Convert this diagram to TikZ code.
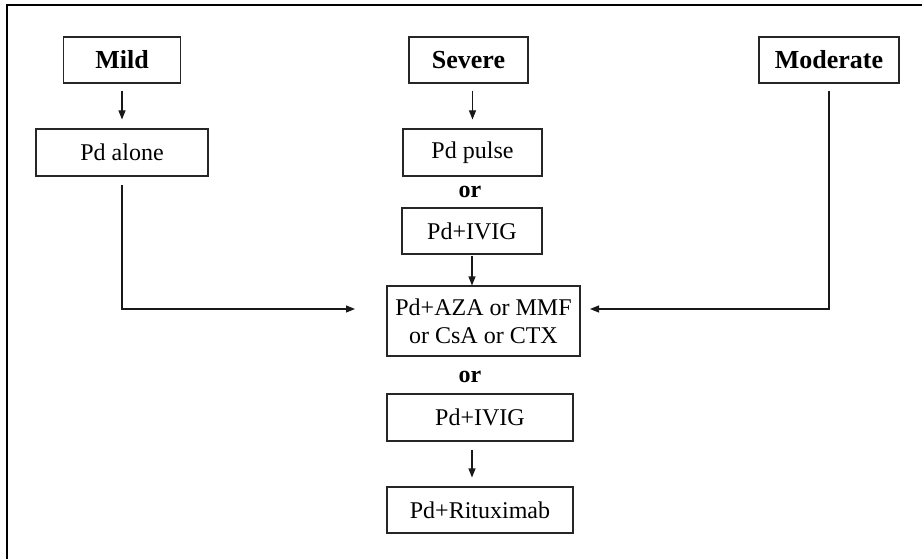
\documentclass[tikz,border=0pt]{standalone}
\usepackage{fontspec}
\setmainfont{Liberation Serif}
\usetikzlibrary{arrows.meta}

\begin{document}
\begin{tikzpicture}[x=1pt,y=-1pt,
  box/.style={draw=black!85,line width=1.1pt,inner sep=0pt,align=center,
    font=\fontsize{24}{28}\selectfont},
  head/.style={box,font=\fontsize{26}{30}\selectfont\bfseries},
  ortext/.style={inner sep=0pt,font=\fontsize{24}{28}\selectfont\bfseries},
  arr/.style={-{Triangle[length=9pt,width=7pt]},line width=1.1pt,draw=black!90}]
  \useasboundingbox (0,0) rectangle (922,559);
  % frame: only its top and left edges lie inside the picture
  \draw[line width=2.5pt] (922,5) -- (7,5) -- (7,559);
  % severity
  \node[head,minimum width=117pt,minimum height=46pt] (mild) at (122,60) {Mild};
  \node[head,minimum width=119pt,minimum height=46pt] (severe) at (468.5,60) {Severe};
  \node[head,minimum width=140pt,minimum height=46pt] (moderate) at (829,60) {Moderate};
  % first line of treatment
  \node[box,minimum width=172pt,minimum height=47pt] (alone) at (122,152.5) {Pd alone};
  \node[box,minimum width=139pt,minimum height=47pt] (pulse) at (472.5,152.5) {Pd pulse};
  \node[ortext] (or1) at (470,192) {or};
  \node[box,minimum width=140pt,minimum height=46pt] (ivigA) at (472,231) {Pd+IVIG};
  % steroid sparing
  \node[box,minimum width=193pt,minimum height=70pt] (sparing) at (483.5,321)
    {Pd+AZA or MMF\\or CsA or CTX};
  \node[ortext] (or2) at (470,377) {or};
  \node[box,minimum width=186pt,minimum height=47pt] (ivigB) at (480,417.5) {Pd+IVIG};
  \node[box,minimum width=186pt,minimum height=46pt] (ritux) at (480,510) {Pd+Rituximab};
  % free ends beside the steroid sparing box
  \coordinate (inL) at (355,309);
  \coordinate (inR) at (590,309);
  % connectors
  \draw[arr,shorten <=7pt,shorten >=9pt] (mild.south) -- (alone.north);
  \draw[arr,shorten <=7pt,shorten >=9pt] (severe.south -| pulse) -- (pulse.north);
  \draw[arr,shorten <=1pt] (ivigA.south) -- (ivigA.south |- sparing.north);
  \draw[arr,shorten <=8pt,shorten >=9pt] (ivigB.south -| ivigA) -- (ritux.north -| ivigA);
  \draw[arr,shorten <=8pt] (alone.south) |- (inL);
  \draw[arr,shorten <=7pt] (moderate.south) |- (inR);
\end{tikzpicture}
\end{document}
